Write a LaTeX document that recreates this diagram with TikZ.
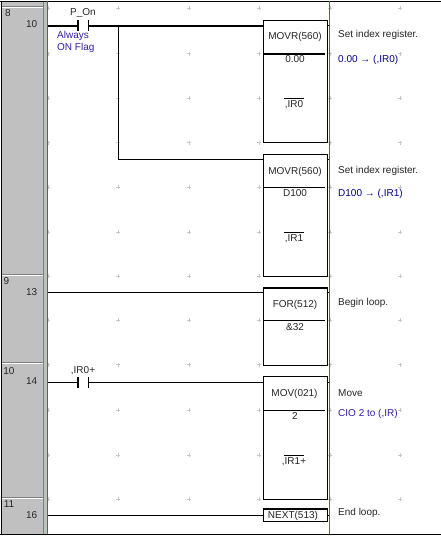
\documentclass[tikz,border=0pt]{standalone}
\usepackage{fontspec}
\setmainfont{Liberation Sans}
\definecolor{ladgreen}{RGB}{20,140,70}
\definecolor{ladgray}{RGB}{192,192,192}
\definecolor{ladblue}{RGB}{0,0,140}
\definecolor{ladpurple}{RGB}{50,30,170}
\definecolor{ladplus}{RGB}{200,200,200}

\begin{document}
\begin{tikzpicture}[x=1pt,y=-1pt]
			\tikzstyle{instr} = [
				rectangle, draw = black, fill = white, line width = 0.8pt,
				inner sep = 0pt, minimum width = 64pt
			]
			\tikzstyle{barthick} = [rectangle, fill = black, inner sep = 0pt, minimum width = 1.7pt, minimum height = 11pt]
			\tikzstyle{barthin} = [rectangle, fill = black, inner sep = 0pt, minimum width = 0.8pt, minimum height = 11pt]
			\tikzstyle{txt} = [inner sep = 0pt, font = \fontsize{10}{11}\selectfont, text = black!85]
			\tikzstyle{com} = [txt, anchor = west]
			\tikzstyle{wire}=[-,draw=black,line width=0.8pt]
			\tikzstyle{wirethick}=[-,draw=black,line width=2pt]
			\tikzstyle{sep}=[-,draw=black,line width=0.7pt]
			\useasboundingbox (0,0) rectangle (441,536);
			% rung column
			\fill[white] (0,0) rectangle (441,536);
			\fill[ladgray] (2,2) rectangle (47,534);
			\draw[black!50,line width=1pt] (43,2) -- (43,534);
			\foreach \y in {7,275,363.5,498} {
				\draw[white,line width=1pt] (2,\y) -- (43,\y);
				\draw[black!50,line width=0.8pt] (2,\y-1) -- (43,\y-1);
			}
			\draw[black,line width=0.8pt] (0,1) -- (441,1);
			\draw[black,line width=0.8pt] (0,534.5) -- (441,534.5);
			\draw[black,line width=0.8pt] (1.5,1) -- (1.5,534.5);
			% grid
			\foreach \x in {48,118,189,259,330,400}
				\foreach \y in {8,53.5,98,142.5,187,232,276,320,364.5,410,455,499} {
					\draw[ladplus,line width=0.5pt] (\x-2,\y) -- (\x+2,\y);
					\draw[ladplus,line width=0.5pt] (\x,\y-2) -- (\x,\y+2);
				}
			% rung numbers
			\node[txt] (rung8) at (8,13) {8};
			\node[txt,anchor=east] (addr10) at (37.5,24.5) {10};
			\node[txt] (rung9) at (6.5,281.5) {9};
			\node[txt,anchor=east] (addr13) at (37.5,292.5) {13};
			\node[txt] (rung10) at (9,371) {10};
			\node[txt,anchor=east] (addr14) at (37.5,381) {14};
			\node[txt] (rung11) at (9,504) {11};
			\node[txt,anchor=east] (addr16) at (37.5,515) {16};
			% rails and ports
			\coordinate (rail1) at (48,25.7);
			\coordinate (rail2) at (48,292.5);
			\coordinate (rail3) at (48,382.5);
			\coordinate (rail4) at (48,515);
			\coordinate (branch) at (118.5,25.7);
			\coordinate (in1) at (263.5,25.7);
			\coordinate (in2) at (263.5,159);
			\coordinate (in3) at (263.5,292.5);
			\coordinate (in4) at (263.5,382.5);
			\coordinate (in5) at (263.5,515);
			\coordinate (out1) at (329,25.7);
			\coordinate (out2) at (329,159);
			\coordinate (out3) at (329,292.5);
			\coordinate (out4) at (329,382.5);
			\coordinate (out5) at (329,515);
			\coordinate (end1) at (327.5,25.7);
			\coordinate (end2) at (327.5,159);
			\coordinate (end3) at (327.5,292.5);
			\coordinate (end4) at (327.5,382.5);
			\coordinate (end5) at (327.5,515);
			% contacts
			\node[barthick] (on1) at (78,25.7) {};
			\node[barthin] (on2) at (88.5,25.7) {};
			\node[barthick] (ir1) at (78,382.5) {};
			\node[barthin] (ir2) at (88.5,382.5) {};
			\node[txt] (ponlabel) at (83,13.5) {P\_On};
			\node[txt] (irlabel) at (83,371) {,IR0+};
			\node[txt,anchor=west,text=ladpurple] (flag1) at (57,36) {Always};
			\node[txt,anchor=west,text=ladpurple] (flag2) at (57,48) {ON Flag};
			% boxes
			\node[instr,minimum height=122pt] (mov1) at (295.5,81.5) {};
			\node[instr,minimum height=122pt] (mov2) at (295.5,215.5) {};
			\node[instr,minimum height=77pt] (for) at (295.5,326.5) {};
			\node[instr,minimum height=123pt] (mov3) at (295.5,437.5) {};
			\node[instr,minimum height=12pt] (next) at (295.5,515) {};
			% wires
			\draw (rail1) to (on1) [wirethick];
			\draw (on2) to (in1) [wirethick];
			\draw (branch) |- (in2) [wire];
			\draw (rail2) to (in3) [wire];
			\draw (rail3) to (ir1) [wire];
			\draw (ir2) to (in4) [wire];
			\draw (rail4) to (in5) [wire];
			\draw (end1) to (out1) [wire];
			\draw (end2) to (out2) [wire];
			\draw (end3) to (out3) [wire];
			\draw (end4) to (out4) [wire];
			\draw (end5) to (out5) [wire];
			\draw (for.north west) to (for.north east) [wirethick];
			\draw (next.north west) to (next.north east) [wirethick];
			% box text
			\node[txt] (mov1a) at (295,36.5) {MOVR(560)};
			\draw (263.5,53.8) -- (325,53.8) [wirethick];
			\node[txt] (mov1b) at (295,59.5) {0.00};
			\draw (284,98) -- (304,98) [sep];
			\node[txt] (mov1c) at (294,105) {,IR0};
			\node[txt] (mov2a) at (295,171.5) {MOVR(560)};
			\draw (263.5,187.5) -- (325,187.5) [sep];
			\node[txt] (mov2b) at (295,193.5) {D100};
			\draw (284,232) -- (304,232) [sep];
			\node[txt] (mov2c) at (294,238.5) {,IR1};
			\node[txt] (fora) at (295,305) {FOR(512)};
			\draw (263.5,320.5) -- (325,320.5) [sep];
			\node[txt] (forb) at (295,327.5) {\&32};
			\node[txt] (mov3a) at (294.5,393.5) {MOV(021)};
			\draw (263.5,410.5) -- (325,410.5) [sep];
			\node[txt] (mov3b) at (295,416.5) {2};
			\draw (284,455) -- (304,455) [sep];
			\node[txt] (mov3c) at (294,461.5) {,IR1+};
			\node[txt] (nexta) at (293,516) {NEXT(513)};
			% power rails
			\draw[ladgreen,line width=0.9pt] (47.5,1) -- (47.5,534);
			\draw[ladgreen,line width=0.9pt] (329.3,1) -- (329.3,534);
			% comments
			\node[com] (com1) at (338,35) {Set index register.};
			\node[com,text=ladblue] (com1b) at (338,59.5) {0.00 → (,IR0)};
			\node[com] (com2) at (338,171) {Set index register.};
			\node[com,text=ladblue] (com2b) at (338,193.5) {D100 → (,IR1)};
			\node[com] (com3) at (338,302.5) {Begin loop.};
			\node[com] (com4) at (338,393) {Move};
			\node[com,text=ladpurple] (com4b) at (338,414) {CIO 2 to (,IR)};
			\node[com] (com5) at (338,513) {End loop.};
		\end{tikzpicture}
\end{document}
